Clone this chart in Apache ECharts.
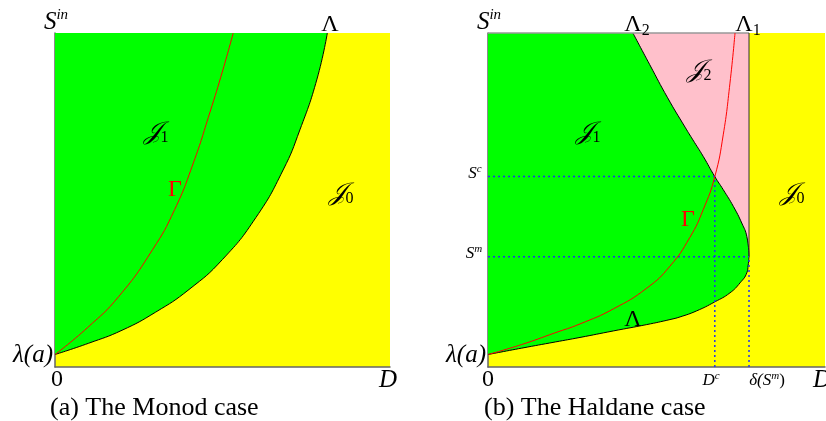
<!DOCTYPE html>
<html>
<head>
<meta charset="utf-8">
<script src="https://cdn.jsdelivr.net/npm/echarts@6/dist/echarts.min.js"></script>
<style>
  html, body { margin: 0; padding: 0; background: #fff; }
  #chart { width: 826px; height: 421px; }
</style>
</head>
<body>
<div id="chart"></div>
<script>
// (a) Monod case: washout boundary Lambda and curve Gamma, in (D, S^in) units 0..10
const monodLambda = [[0, 0.374], [1, 0.71], [2, 1.1], [3, 1.64], [4, 2.32], [5, 3.22], [6, 4.48], [6.81, 5.9], [7.31, 7.1], [7.82, 8.62], [8.13, 10]];
const monodGamma = [[0, 0.374], [0.96, 1.17], [1.91, 2.12], [2.91, 3.51], [3.57, 4.71], [4.13, 6.11], [4.62, 7.61], [5.01, 8.89], [5.32, 10]];

// (b) Haldane case
const haldaneLower = [[0, 0.374], [1, 0.565], [2, 0.75], [2.73, 0.885], [3.72, 1.08], [4.71, 1.27], [5.4, 1.42], [5.7, 1.5], [6.19, 1.68], [6.73, 1.95], [7.18, 2.22], [7.48, 2.52], [7.68, 2.82], [7.72, 3.05], [7.745, 3.3]];
const haldaneUpper = [[7.745, 3.3], [7.68, 3.91], [7.53, 4.31], [7.28, 4.81], [6.98, 5.31], [6.73, 5.7], [6.39, 6.3], [6.08, 6.8], [5.86, 7.16], [5.33, 8.06], [4.8, 9.05], [4.3, 10]];
const haldaneGamma = [[0, 0.374], [0.99, 0.67], [1.98, 1.02], [2.73, 1.29], [3.72, 1.74], [4.71, 2.36], [5.4, 3.02], [5.99, 3.88], [6.39, 4.72], [6.73, 5.7], [6.98, 6.95], [7.18, 8.5], [7.33, 10]];
const deltaSm = 7.745, sM = 3.3;
const dC = 6.73, sC = 5.7;

const chart = echarts.init(document.getElementById("chart"), null, { renderer: "canvas" });

const GREEN = "#00ff00", YELLOW = "#ffff00", PINK = "#ffc0cb", RED = "#ff0000", BLUE = "#2233ee";
const SERIF = '"Liberation Serif", "DejaVu Serif", serif';

const axisPair = (gridIndex) => ([
  {
    gridIndex, type: "value", min: 0, max: 10, position: "bottom",
    axisLine: { show: true, onZero: false, lineStyle: { color: "#666", width: 1.5 } },
    axisTick: { show: false }, axisLabel: { show: false }, splitLine: { show: false },
  },
  {
    gridIndex, type: "value", min: 0, max: 10, position: "left",
    axisLine: { show: true, onZero: false, lineStyle: { color: "#666", width: 1.5 } },
    axisTick: { show: false }, axisLabel: { show: false }, splitLine: { show: false },
  },
]);
const [xA, yA] = axisPair(0);
const [xB, yB] = axisPair(1);

const curve = (idx, data, color, extra = {}) => ({
  type: "line", xAxisIndex: idx, yAxisIndex: idx, data,
  smooth: 0.5, symbol: "none", silent: true,
  lineStyle: { color, width: 1 }, ...extra,
});

const seg = (idx, data, color, type, width, extra = {}) => ({
  type: "line", xAxisIndex: idx, yAxisIndex: idx, data, symbol: "none", silent: true,
  lineStyle: { color, width, type }, ...extra,
});

// text helpers
const rich = {
  m: { fontFamily: SERIF, fontStyle: "italic", fontSize: 25, lineHeight: 28, verticalAlign: "middle" },
  r: { fontFamily: SERIF, fontSize: 24, lineHeight: 28, verticalAlign: "middle" },
  cap: { fontFamily: SERIF, fontSize: 26, lineHeight: 28, verticalAlign: "middle" },
  sup: { fontFamily: SERIF, fontStyle: "italic", fontSize: 15, verticalAlign: "top" },
  sub: { fontFamily: SERIF, fontSize: 16, verticalAlign: "bottom" },
  sm: { fontFamily: SERIF, fontStyle: "italic", fontSize: 17, lineHeight: 20, verticalAlign: "middle" },
  smr: { fontFamily: SERIF, fontSize: 17, lineHeight: 20, verticalAlign: "middle" },
  ssup: { fontFamily: SERIF, fontStyle: "italic", fontSize: 11, verticalAlign: "top" },
};
const label = (text, x, y, fill = "#000", align = "center") => ({
  type: "text", x, y, z: 100, silent: true,
  style: { text, fill, rich, textAlign: align, textVerticalAlign: "middle" },
});

const graphics = [
  // panel a
  label("{m|S}{sup|in}", 56, 22),
  label("{r|Λ}", 330, 25),
  label("{m|𝒥}{sub|1}", 156, 132),
  label("{r|Γ}", 175, 190, RED),
  label("{m|𝒥}{sub|0}", 341, 193),
  label("{m|λ(a)}", 33, 355),
  label("{r|0}", 57, 380),
  label("{m|D}", 388, 380),
  label("{cap|(a) The Monod case}", 50, 408, "#000", "left"),
  // panel b
  label("{m|S}{sup|in}", 489, 22),
  label("{r|Λ}{sub|2}", 637, 25),
  label("{r|Λ}{sub|1}", 748, 25),
  label("{m|𝒥}{sub|2}", 699, 70),
  label("{m|𝒥}{sub|1}", 588, 132),
  label("{m|𝒥}{sub|0}", 792, 193),
  label("{r|Γ}", 688, 220, RED),
  label("{r|Λ}", 633, 320),
  label("{sm|S}{ssup|c}", 475, 174),
  label("{sm|S}{ssup|m}", 474, 254),
  label("{m|λ(a)}", 466, 355),
  label("{r|0}", 488, 380),
  label("{sm|D}{ssup|c}", 711, 381),
  label("{sm|δ(S}{ssup|m}{smr|)}", 767, 381),
  label("{m|D}", 822, 380),
  label("{cap|(b) The Haldane case}", 484, 408, "#000", "left"),
];

chart.setOption({
  animation: false,
  grid: [
    { left: 55, top: 33, width: 335, height: 334, show: true, backgroundColor: YELLOW, borderWidth: 0 },
    { left: 488, top: 33, width: 337, height: 334, show: true, backgroundColor: YELLOW, borderWidth: 0 },
  ],
  xAxis: [xA, xB],
  yAxis: [yA, yB],
  series: [
    // panel a
    curve(0, monodLambda, "#000", { areaStyle: { color: GREEN, opacity: 1, origin: "end" }, z: 2 }),
    curve(0, monodGamma, RED, { z: 3 }),
    // panel b
    curve(1, haldaneLower, "#000", { areaStyle: { color: GREEN, opacity: 1, origin: "end" }, z: 2 }),
    curve(1, haldaneUpper, "#000", { areaStyle: { color: PINK, opacity: 1, origin: "end" }, z: 3 }),
    seg(1, [[0, 10], [deltaSm, 10]], "#999", "solid", 1.5, { clip: false, z: 4 }),
    seg(1, [[deltaSm, sM], [deltaSm, 10]], "#333", "solid", 1, { z: 4 }),
    seg(1, [[0, sC], [dC, sC]], BLUE, [2, 3], 1.5, { z: 4 }),
    seg(1, [[dC, 0], [dC, sC]], BLUE, [2, 3], 1.5, { z: 4 }),
    seg(1, [[0, sM], [deltaSm, sM]], BLUE, [2, 3], 1.5, { z: 4 }),
    seg(1, [[deltaSm, 0], [deltaSm, sM]], BLUE, [2, 3], 1.5, { z: 4 }),
    curve(1, haldaneGamma, RED, { z: 5 }),
  ],
  graphic: graphics,
});
</script>
</body>
</html>
